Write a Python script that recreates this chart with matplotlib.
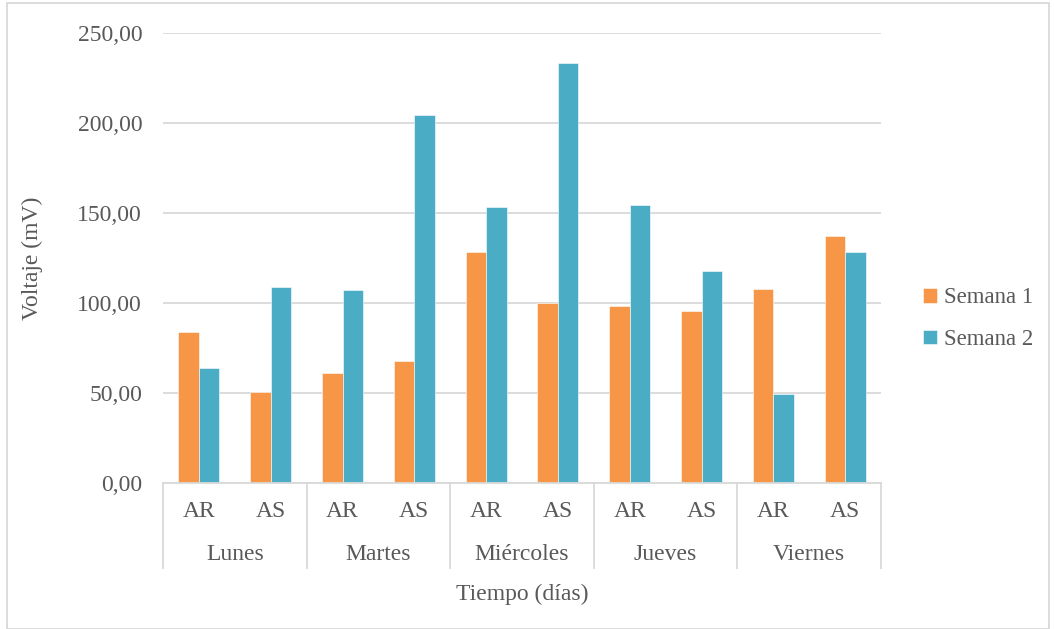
import numpy as np
import matplotlib
matplotlib.use("Agg")
from matplotlib import pyplot as plt
from matplotlib.patches import Rectangle
import matplotlib.transforms as mtransforms

plt.rcParams['font.family'] = ['Liberation Serif', 'DejaVu Serif']

# voltage readings per day and electrode
days = ['Lunes', 'Martes', 'Miércoles', 'Jueves', 'Viernes']
sensors = ['AR', 'AS']
semana1 = [83.7, 50.4, 60.9, 67.8, 128.3, 100.0, 98.3, 95.6, 108.0, 137.1]
semana2 = [63.9, 108.9, 107.2, 204.3, 153.3, 233.6, 154.4, 117.8, 49.3, 128.6]
yticks = [0, 50, 100, 150, 200, 250]

orange = '#F79646'
blue = '#4BACC6'
grid_c = '#D9D9D9'
txt_c = '#595959'

fig = plt.figure(figsize=(10.54, 6.29), dpi=100)
ax = fig.add_axes([163/1054, 146/629, 718/1054, 450/629])

x = np.arange(len(semana1))
w = 0.285
ax.bar(x - w/2, semana1, w, color=orange, edgecolor='white', linewidth=0.4, label='Semana 1')
ax.bar(x + w/2, semana2, w, color=blue, edgecolor='white', linewidth=0.4, label='Semana 2')

ax.set_xlim(-0.5, len(x) - 0.5)
ax.set_ylim(0, 250)
ax.set_yticks(yticks)
ax.set_yticklabels([f'{v:.2f}'.replace('.', ',') for v in yticks])
ax.tick_params(axis='y', length=0, pad=15, labelsize=17, labelcolor=txt_c)
ax.set_xticks([])
ax.yaxis.grid(True, color=grid_c, linewidth=1.3)
ax.set_axisbelow(True)
for s in ['left', 'right', 'top']:
    ax.spines[s].set_visible(False)
ax.spines['bottom'].set_color(grid_c)
ax.spines['bottom'].set_linewidth(1.3)

# two-level category axis
trans = mtransforms.blended_transform_factory(ax.transData, ax.transAxes)
for b in np.arange(-0.5, len(x), 2):
    ax.plot([b, b], [0, -0.189], transform=trans, color=grid_c, lw=1.3, clip_on=False)
for i in x:
    ax.text(i, -0.064, sensors[i % 2], transform=trans, ha='center', va='center',
            fontsize=17, color=txt_c)
for j, d in enumerate(days):
    ax.text(2*j + 0.5, -0.16, d, transform=trans, ha='center', va='center',
            fontsize=17, color=txt_c)

fig.text(522/1054, 1 - 594/629, 'Tiempo (días)', ha='center', va='center',
         fontsize=17, color=txt_c)
fig.text(32/1054, 1 - 258/629, 'Voltaje (mV)', ha='center', va='center',
         rotation=90, fontsize=17, color=txt_c)

leg = ax.legend(loc='center left', bbox_to_anchor=(1.03, 0.365), frameon=False,
                fontsize=16.5, handlelength=0.6, handleheight=0.6, handletextpad=0.3,
                labelspacing=0.9)
for t in leg.get_texts():
    t.set_color(txt_c)

fig.patches.append(Rectangle((7/1054, 0), 1042/1054, 1 - 3/629, transform=fig.transFigure,
                             fill=False, edgecolor=grid_c, linewidth=1.3))

fig.savefig('out.png', dpi=100)
